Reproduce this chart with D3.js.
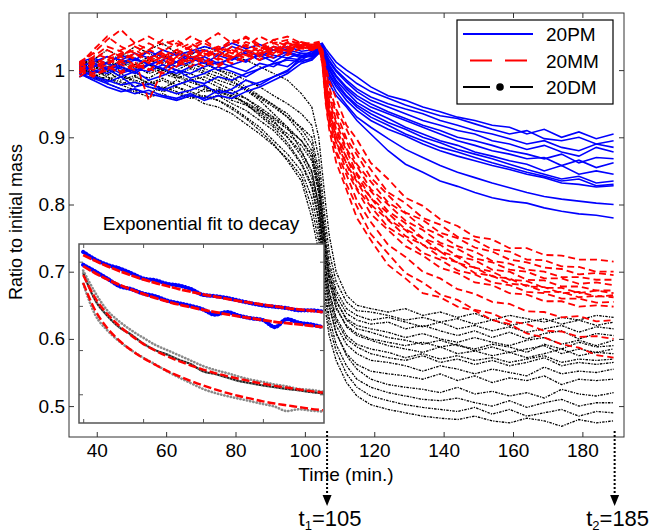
<!DOCTYPE html>
<html>
<head>
<meta charset="utf-8">
<script src="https://cdn.jsdelivr.net/npm/d3@7"></script>
<style>
    body { margin: 0; background: #fff; }
    text { font-family: Arial, "Liberation Sans", sans-serif; fill: #000; }
</style>
</head>
<body>
<div id="chart"></div>
<script>
// time grid (min.) shared by every curve: 17 points before t1, 23 after
const times = [35, 39, 43, 47, 51, 55, 59, 63, 67, 71, 75, 79, 83, 87, 91, 95, 99,
               102, 104, 105, 106, 107, 109, 112, 115, 119, 124, 129, 134, 139, 144, 149, 154, 159, 164, 169, 174, 179, 184, 189];

// ratio to initial mass, in thousandths ("before t1 | after t1")
const series20PM = [
    "1005 1012 1020 1015 1025 1018 1030 1022 1028 1035 1030 1040 1032 1038 1030 1035 1028 | 1030 1038 1040 1032 1025 1012 1000 990 975 962 955 945 938 930 925 918 915 905 912 900 908 898 905",
    "998 1005 1010 1002 995 1008 1015 1005 1012 1020 1010 1018 1025 1015 1022 1018 1025 | 1025 1035 1038 1028 1020 1005 992 980 968 958 948 940 932 928 920 912 905 910 898 895 900 890 895",
    "1002 990 985 978 982 975 970 978 985 980 990 985 995 1002 1010 1005 1020 | 1028 1036 1037 1025 1015 1000 985 972 960 950 942 935 925 918 910 905 898 890 895 885 880 890 885",
    "1010 1000 995 1005 998 1010 1002 995 1005 1012 1000 1008 1015 1022 1012 1025 1018 | 1022 1032 1035 1022 1012 998 982 968 955 945 935 925 918 910 905 895 890 882 888 878 872 885 878",
    "995 985 975 968 972 965 960 955 962 958 970 965 975 982 990 1000 1015 | 1025 1034 1036 1020 1008 992 975 962 950 938 928 918 910 900 895 888 880 875 868 875 862 870 868",
    "1000 1008 1002 1012 1018 1008 1015 1025 1018 1010 1022 1015 1028 1020 1030 1025 1022 | 1020 1030 1034 1018 1005 990 972 958 945 935 925 915 905 895 888 880 875 868 870 858 866 855 862",
    "1008 995 1002 990 998 985 992 1000 988 995 1005 998 990 1002 1010 1015 1012 | 1018 1028 1033 1015 1002 985 968 952 940 928 915 905 895 888 878 872 865 860 850 858 845 850 845",
    "1000 992 982 990 975 980 972 965 970 978 965 972 985 978 990 998 1020 | 1024 1033 1035 1016 1000 982 962 948 935 922 912 900 892 882 875 868 860 852 845 838 842 832 835",
    "1012 1018 1010 1022 1015 1028 1020 1012 1025 1030 1022 1035 1028 1022 1035 1030 1025 | 1020 1030 1034 1012 995 978 960 945 930 918 905 895 885 878 870 862 855 848 842 835 838 828 830",
    "990 998 1005 995 1002 998 1008 1000 995 1005 1012 1005 998 1010 1005 1018 1015 | 1015 1026 1030 1010 992 975 955 940 925 912 902 890 880 872 865 858 852 845 840 832 830 826 828",
    "1005 1012 1000 1008 1015 1010 1002 1012 1020 1015 1008 1018 1012 1025 1018 1028 1020 | 1020 1030 1032 1005 988 968 948 930 915 898 882 870 858 848 840 832 825 818 812 808 805 802 800",
    "995 988 980 972 965 970 962 958 965 955 962 958 968 975 985 995 1010 | 1015 1025 1030 1000 980 962 945 925 905 880 860 848 835 827 818 810 805 802 795 790 786 784 780"
];

const series20MM = [
    "1010 1025 1045 1060 1040 1030 1045 1035 1050 1040 1030 1045 1035 1050 1040 1045 1038 | 1035 1038 1032 1005 985 958 918 897 862 838 810 798 778 768 752 748 735 735 725 724 718 718 715",
    "1000 1015 1030 1020 1035 1025 1015 1030 1040 1028 1035 1025 1038 1030 1045 1035 1042 | 1038 1040 1030 1000 975 942 912 880 852 818 802 780 770 752 747 733 730 718 717 708 707 700 700",
    "1005 995 1010 1020 1008 1000 1015 1005 1020 1012 1025 1018 1030 1022 1035 1028 1040 | 1032 1036 1028 995 968 937 898 874 840 814 788 777 758 750 736 730 718 714 706 704 696 698 695",
    "995 1010 1000 1015 1025 1010 1020 1030 1018 1025 1015 1030 1022 1035 1025 1040 1035 | 1030 1035 1025 990 962 926 894 860 834 803 787 766 754 738 730 716 712 703 700 692 692 688 688",
    "1008 1020 1035 1028 1015 955 1000 1020 1010 1030 1020 1035 1028 1020 1032 1025 1038 | 1036 1038 1026 985 955 922 883 857 823 800 776 762 743 734 720 714 703 700 690 690 682 684 680",
    "1000 990 1005 998 1010 1002 995 1008 1015 1005 1018 1010 1022 1015 1028 1032 1035 | 1034 1036 1022 980 950 913 880 846 820 790 772 750 740 723 717 703 700 688 687 678 678 672 672",
    "1012 1025 1018 1030 1040 1050 1038 1045 1030 1042 1055 1040 1048 1035 1045 1050 1040 | 1040 1042 1028 978 945 910 870 844 810 787 763 750 730 722 706 700 688 686 676 676 668 672 668",
    "990 1005 1015 1008 1000 1012 1020 1010 1025 1015 1008 1020 1030 1025 1018 1030 1036 | 1035 1037 1020 975 942 903 870 836 810 778 762 740 730 713 706 693 690 678 677 668 670 663 665",
    "1005 1018 1008 1022 1030 1018 1010 1025 1035 1022 1030 1045 1035 1028 1040 1032 1038 | 1038 1040 1024 972 938 902 860 834 800 777 753 740 722 714 698 694 682 680 670 670 662 664 662",
    "1002 992 1000 1012 1005 1018 1025 1012 1005 1018 1028 1020 1012 1025 1035 1028 1034 | 1032 1035 1018 968 935 893 860 824 797 766 750 728 718 702 696 684 680 670 668 660 660 654 655",
    "1008 1030 1050 1035 1025 1040 1030 1020 1035 1045 1030 1040 1050 1038 1030 1042 1040 | 1036 1038 1020 965 930 892 850 822 786 762 738 724 706 698 684 680 668 666 656 656 648 650 648",
    "995 1008 1020 1012 1025 1015 1028 1040 1030 1022 1035 1028 1042 1035 1030 1040 1037 | 1030 1034 1015 960 925 880 844 806 774 740 722 700 690 674 667 655 652 641 640 632 634 626 628",
    "1000 1012 1005 995 1008 1000 1015 1008 1020 1012 1005 1018 1025 1015 1030 1022 1033 | 1034 1036 1012 955 918 877 830 797 756 727 698 684 666 658 643 638 626 622 612 611 603 604 600",
    "1010 1000 1015 1025 1018 1030 1022 1015 1028 1020 1032 1025 1018 1030 1022 1035 1032 | 1030 1033 1010 950 912 863 822 780 747 710 690 668 662 648 642 628 622 608 602 592 587 576 572"
];

const series20DM = [
    "1005 1015 1030 1020 1035 1025 1018 1030 1022 1035 1028 1020 1015 1005 995 985 965 | 945 900 850 800 755 700 665 650 645 640 645 635 640 632 638 628 635 630 625 632 628 635 632",
    "998 1010 1002 1015 1008 1020 1012 1005 1018 1010 1000 995 985 975 962 950 935 | 918 870 820 770 730 685 655 642 640 635 628 632 625 630 622 628 620 625 630 622 628 620 625",
    "1010 1000 1012 1005 995 1008 1000 992 1002 995 985 978 970 958 945 930 915 | 900 850 800 752 715 672 645 635 628 632 625 618 625 615 620 612 618 610 615 620 610 618 615",
    "995 1005 998 1010 1018 1008 1000 1012 1005 998 990 982 972 960 948 935 912 | 890 840 788 742 705 665 638 628 622 625 615 620 612 605 612 602 610 600 608 612 600 608 605",
    "1002 990 998 985 992 980 988 978 985 975 968 960 952 940 928 912 895 | 875 825 775 730 695 655 630 620 615 610 602 608 600 595 602 595 590 598 602 592 598 590 598",
    "1008 1018 1010 1025 1015 1030 1040 1025 1018 1010 1000 990 975 962 948 930 905 | 880 830 780 735 698 658 628 615 610 602 598 592 598 590 585 592 588 580 592 585 595 588 590",
    "990 1000 992 1005 995 988 1000 990 982 975 968 962 950 938 922 905 888 | 865 815 765 720 685 645 620 608 600 595 590 595 588 592 582 588 580 585 590 578 585 580 585",
    "1005 995 985 978 990 980 972 985 975 968 972 965 958 945 930 915 895 | 870 820 770 725 688 648 618 605 598 590 585 580 588 578 582 575 580 572 578 585 575 580 578",
    "1000 1010 1020 1012 1005 1015 1008 1000 1010 1002 995 985 970 955 935 915 880 | 850 800 752 708 672 632 605 592 585 580 572 578 570 575 568 572 565 570 575 565 570 568 570",
    "995 985 990 978 970 965 975 968 960 972 965 955 948 935 918 900 878 | 848 798 748 705 668 628 600 588 578 572 568 575 565 570 562 568 560 565 572 560 565 562 565",
    "1012 1002 1010 998 1005 995 1002 992 985 990 980 970 958 942 925 900 872 | 840 790 740 695 660 620 592 578 568 565 560 552 560 555 548 555 550 545 558 548 552 550 555",
    "1000 992 985 995 982 975 968 975 965 958 962 950 940 925 910 888 860 | 825 775 725 682 648 608 578 562 552 548 545 540 548 538 545 535 542 538 545 532 540 538 540",
    "1008 1015 1005 1012 1000 1008 995 988 995 985 975 965 950 932 915 892 862 | 830 778 728 685 650 610 575 555 540 532 528 525 520 528 518 522 515 520 512 525 518 515 520",
    "995 1000 990 982 975 985 972 965 958 962 955 945 930 915 895 875 850 | 810 760 712 668 632 592 560 540 528 520 515 510 508 512 505 500 508 498 505 510 500 505 505",
    "1002 990 980 972 968 960 965 955 962 950 945 935 920 905 888 868 842 | 795 745 698 655 620 582 548 528 515 508 502 498 495 492 498 488 495 485 490 495 485 492 490",
    "1005 995 1002 990 985 978 985 975 968 960 955 942 928 910 890 865 835 | 780 730 682 640 605 568 535 515 502 495 490 485 482 480 485 478 475 482 478 470 480 475 478"
];

const legendNames = ["20PM", "20MM", "20DM"];
const xTicks = [40, 60, 80, 100, 120, 140, 160, 180];
const yTicks = [0.5, 0.6, 0.7, 0.8, 0.9, 1];
const yTickLabels = ["0.5", "0.6", "0.7", "0.8", "0.9", "1"];

// inset: minutes after the start of the fit window, ratio values
const insetTimes = [0, 4, 8, 12, 16, 20, 24, 28, 32, 36, 40, 44, 48, 52, 56, 60, 64, 68, 72, 76, 80];
const insetBlueA = [0.922, 0.905, 0.893, 0.885, 0.874, 0.862, 0.858, 0.850, 0.846, 0.838, 0.825, 0.822, 0.818, 0.812, 0.806, 0.801, 0.798, 0.795, 0.790, 0.790, 0.787];
const insetBlueB = [0.893, 0.878, 0.862, 0.845, 0.838, 0.828, 0.822, 0.812, 0.806, 0.800, 0.792, 0.780, 0.786, 0.778, 0.772, 0.768, 0.752, 0.770, 0.762, 0.758, 0.752];
const insetFitA  = [0.915, 0.902, 0.890, 0.879, 0.869, 0.860, 0.852, 0.845, 0.838, 0.832, 0.826, 0.821, 0.816, 0.811, 0.807, 0.803, 0.799, 0.795, 0.792, 0.789, 0.786];
const insetFitB  = [0.890, 0.874, 0.860, 0.848, 0.837, 0.827, 0.818, 0.810, 0.803, 0.797, 0.791, 0.786, 0.781, 0.776, 0.772, 0.768, 0.764, 0.761, 0.758, 0.755, 0.752];
const insetGreyA = [0.874, 0.813, 0.778, 0.752, 0.735, 0.715, 0.700, 0.690, 0.678, 0.668, 0.652, 0.646, 0.638, 0.630, 0.625, 0.620, 0.616, 0.612, 0.609, 0.605, 0.602];
const insetGreyB = [0.880, 0.830, 0.790, 0.765, 0.745, 0.728, 0.712, 0.700, 0.688, 0.676, 0.664, 0.655, 0.648, 0.640, 0.633, 0.628, 0.622, 0.618, 0.612, 0.610, 0.606];
const insetGreyC = [0.850, 0.780, 0.745, 0.720, 0.700, 0.683, 0.668, 0.652, 0.638, 0.625, 0.612, 0.603, 0.596, 0.590, 0.584, 0.578, 0.572, 0.562, 0.566, 0.563, 0.561];
const insetFitG1 = [0.870, 0.818, 0.782, 0.755, 0.733, 0.714, 0.699, 0.686, 0.675, 0.665, 0.656, 0.648, 0.641, 0.635, 0.629, 0.624, 0.619, 0.615, 0.611, 0.607, 0.604];
const insetFitG2 = [0.852, 0.790, 0.750, 0.722, 0.700, 0.682, 0.667, 0.653, 0.641, 0.630, 0.620, 0.611, 0.603, 0.596, 0.590, 0.584, 0.579, 0.575, 0.571, 0.567, 0.564];
const insetXTicks = [0, 20, 40, 60];
const insetYTicks = [0.6, 0.7, 0.8, 0.9];

// t1 / t2 markers (position on the time axis, label)
const markerTimes = [106.4, 189.3];
const markerLabels = [["1", "105"], ["2", "185"]];

function parseSeries(s) {
    return s.replace("|", " ").trim().split(/\s+/).map(v => +v / 1000);
}

const margin = {top: 13, right: 30, bottom: 95, left: 69};
const width = 654 - margin.left - margin.right;
const height = 532 - margin.top - margin.bottom;

const root = d3.select("#chart")
    .append("svg")
        .attr("width", 654)
        .attr("height", 532);
root.append("rect").attr("width", 654).attr("height", 532).attr("fill", "#fff");

const svg = root.append("g")
    .attr("transform", "translate(" + margin.left + "," + margin.top + ")");

const xScale = d3.scaleLinear().domain([32, 192]).range([0, width]);
const yScale = d3.scaleLinear().domain([0.454, 1.085]).range([height, 0]);

svg.append("clipPath").attr("id", "plotClip")
    .append("rect").attr("width", width).attr("height", height);

const plotArea = svg.append("g").attr("clip-path", "url(#plotClip)");

const line = d3.line()
    .x((d, i) => xScale(times[i]))
    .y(d => yScale(d));

// black first, then blue, red on top
plotArea.selectAll(".dm")
    .data(series20DM.map(parseSeries))
    .enter().append("path")
        .attr("class", "dm")
        .attr("d", line)
        .attr("fill", "none")
        .attr("stroke", "#000")
        .attr("stroke-width", 1.3)
        .attr("stroke-dasharray", "2.5 1.2 1.2 1.2");

plotArea.selectAll(".pm")
    .data(series20PM.map(parseSeries))
    .enter().append("path")
        .attr("class", "pm")
        .attr("d", line)
        .attr("fill", "none")
        .attr("stroke", "#0000ff")
        .attr("stroke-width", 1.6);

plotArea.selectAll(".mm")
    .data(series20MM.map(parseSeries))
    .enter().append("path")
        .attr("class", "mm")
        .attr("d", line)
        .attr("fill", "none")
        .attr("stroke", "#ff0000")
        .attr("stroke-width", 1.8)
        .attr("stroke-dasharray", "7 4");

// axes, ticks pointing inwards like matlab
function styleAxis(g) {
    g.select(".domain").remove();
    g.selectAll(".tick line").attr("stroke", "#333");
    g.selectAll(".tick text").attr("font-size", 19).attr("fill", "#000")
        .attr("font-family", "Arial, 'Liberation Sans', sans-serif");
}

svg.append("g")
    .attr("transform", "translate(0," + height + ")")
    .call(d3.axisBottom(xScale).tickValues(xTicks).tickSize(-5).tickPadding(7))
    .call(styleAxis);
svg.append("g")
    .call(d3.axisTop(xScale).tickValues(xTicks).tickSize(-5).tickFormat(""))
    .call(styleAxis);
svg.append("g")
    .call(d3.axisLeft(yScale).tickValues(yTicks).tickSize(-5).tickPadding(4)
        .tickFormat((d, i) => yTickLabels[i]))
    .call(styleAxis);
svg.append("g")
    .attr("transform", "translate(" + width + ",0)")
    .call(d3.axisRight(yScale).tickValues(yTicks).tickSize(-5).tickFormat(""))
    .call(styleAxis);

svg.append("rect")
    .attr("width", width)
    .attr("height", height)
    .attr("fill", "none")
    .attr("stroke", "#333")
    .attr("stroke-width", 1);

svg.append("text")
    .attr("transform", "translate(-47," + 209 + ") rotate(-90)")
    .attr("text-anchor", "middle")
    .attr("font-size", 18)
    .text("Ratio to initial mass");

svg.append("text")
    .attr("x", 277)
    .attr("y", height + 44)
    .attr("text-anchor", "middle")
    .attr("font-size", 19)
    .text("Time (min.)");

// legend
const legend = svg.append("g").attr("transform", "translate(388,7)");
legend.append("rect")
    .attr("width", 156)
    .attr("height", 84)
    .attr("fill", "#fff")
    .attr("stroke", "#000")
    .attr("stroke-width", 1.2);

const legendStyles = [
    {color: "#0000ff", x1: 6, x2: 76, dash: null},
    {color: "#ff0000", x1: 13, x2: 71, dash: "22 13"},
    {color: "#000", x1: 6, x2: 76, dash: "27 20 23 20"}
];
const legendRows = legend.selectAll(".legend")
    .data(legendNames)
    .enter().append("g")
        .attr("class", "legend")
        .attr("transform", (d, i) => "translate(0," + (14 + i * 26.5) + ")");
legendRows.append("line")
    .attr("x1", (d, i) => legendStyles[i].x1)
    .attr("x2", (d, i) => legendStyles[i].x2)
    .attr("stroke", (d, i) => legendStyles[i].color)
    .attr("stroke-width", 1.8)
    .attr("stroke-dasharray", (d, i) => legendStyles[i].dash);
legendRows.filter((d, i) => i === 2).append("circle")
    .attr("cx", 43)
    .attr("r", 3.8)
    .attr("fill", "#000");
legendRows.append("text")
    .attr("x", 89)
    .attr("y", 7)
    .attr("font-size", 19)
    .text(d => d);

// inset
const inset = svg.append("g").attr("transform", "translate(10,231)");
const insetW = 245, insetH = 179;
const insetX = d3.scaleLinear().domain([-1.4, 80.4]).range([0, insetW]);
const insetY = d3.scaleLinear().domain([0.535, 0.94]).range([insetH, 0]);

svg.append("text")
    .attr("x", 132)
    .attr("y", 217)
    .attr("text-anchor", "middle")
    .attr("font-size", 19)
    .text("Exponential fit to decay");

inset.append("rect")
    .attr("width", insetW)
    .attr("height", insetH)
    .attr("fill", "#fff");

const insetLine = d3.line()
    .x((d, i) => insetX(insetTimes[i]))
    .y(d => insetY(d))
    .curve(d3.curveMonotoneX);

function dotted(sel, color, w) {
    sel.attr("fill", "none")
        .attr("stroke", color)
        .attr("stroke-width", w)
        .attr("stroke-linecap", "round")
        .attr("stroke-dasharray", "0.3 3");
}

inset.selectAll(".grey")
    .data([insetGreyA, insetGreyB, insetGreyC])
    .enter().append("path")
        .attr("class", "grey")
        .attr("d", insetLine)
        .call(dotted, "#8a8a8a", 2.6);
inset.append("path")
    .attr("d", insetLine(insetGreyA))
    .call(dotted, "#222", 2.2)
    .attr("stroke-dashoffset", 1.5);

inset.selectAll(".gfit")
    .data([insetFitG1, insetFitG2])
    .enter().append("path")
        .attr("class", "gfit")
        .attr("d", insetLine)
        .attr("fill", "none")
        .attr("stroke", "#ff0000")
        .attr("stroke-width", 2.4)
        .attr("stroke-dasharray", "8 3");

inset.selectAll(".blue")
    .data([insetBlueA, insetBlueB])
    .enter().append("path")
        .attr("class", "blue")
        .attr("d", insetLine)
        .call(dotted, "#0000ff", 4.2);

inset.selectAll(".bfit")
    .data([insetFitA, insetFitB])
    .enter().append("path")
        .attr("class", "bfit")
        .attr("d", insetLine)
        .attr("fill", "none")
        .attr("stroke", "#ff0000")
        .attr("stroke-width", 2.8)
        .attr("stroke-dasharray", "9 1.5");

function styleInsetAxis(g) {
    g.select(".domain").remove();
    g.selectAll(".tick line").attr("stroke", "#555");
}
inset.append("g").attr("transform", "translate(0," + insetH + ")")
    .call(d3.axisBottom(insetX).tickValues(insetXTicks).tickSize(-4).tickFormat(""))
    .call(styleInsetAxis);
inset.append("g")
    .call(d3.axisTop(insetX).tickValues(insetXTicks).tickSize(-4).tickFormat(""))
    .call(styleInsetAxis);
inset.append("g")
    .call(d3.axisLeft(insetY).tickValues(insetYTicks).tickSize(-4).tickFormat(""))
    .call(styleInsetAxis);
inset.append("g").attr("transform", "translate(" + insetW + ",0)")
    .call(d3.axisRight(insetY).tickValues(insetYTicks).tickSize(-4).tickFormat(""))
    .call(styleInsetAxis);

inset.append("rect")
    .attr("width", insetW)
    .attr("height", insetH)
    .attr("fill", "none")
    .attr("stroke", "#555")
    .attr("stroke-width", 1.5);

// t1 / t2 dotted arrows under the axis
const markers = svg.selectAll(".marker")
    .data(markerTimes)
    .enter().append("g")
        .attr("class", "marker")
        .attr("transform", d => "translate(" + xScale(d) + ",0)");
markers.append("line")
    .attr("y1", height - 6)
    .attr("y2", height + 60)
    .attr("stroke", "#000")
    .attr("stroke-width", 2)
    .attr("stroke-dasharray", "2 2");
markers.append("path")
    .attr("d", "M-4.5," + (height + 58) + "L4.5," + (height + 58) + "L0," + (height + 69) + "Z")
    .attr("fill", "#000");
const markerText = markers.append("text")
    .attr("x", 3)
    .attr("y", height + 89)
    .attr("text-anchor", "middle")
    .attr("font-size", 22);
markerText.append("tspan").text("t");
markerText.append("tspan")
    .attr("font-size", 13)
    .attr("dy", 3.5)
    .text((d, i) => markerLabels[i][0]);
markerText.append("tspan")
    .attr("dy", -3.5)
    .text((d, i) => "=" + markerLabels[i][1]);
</script>
</body>
</html>
